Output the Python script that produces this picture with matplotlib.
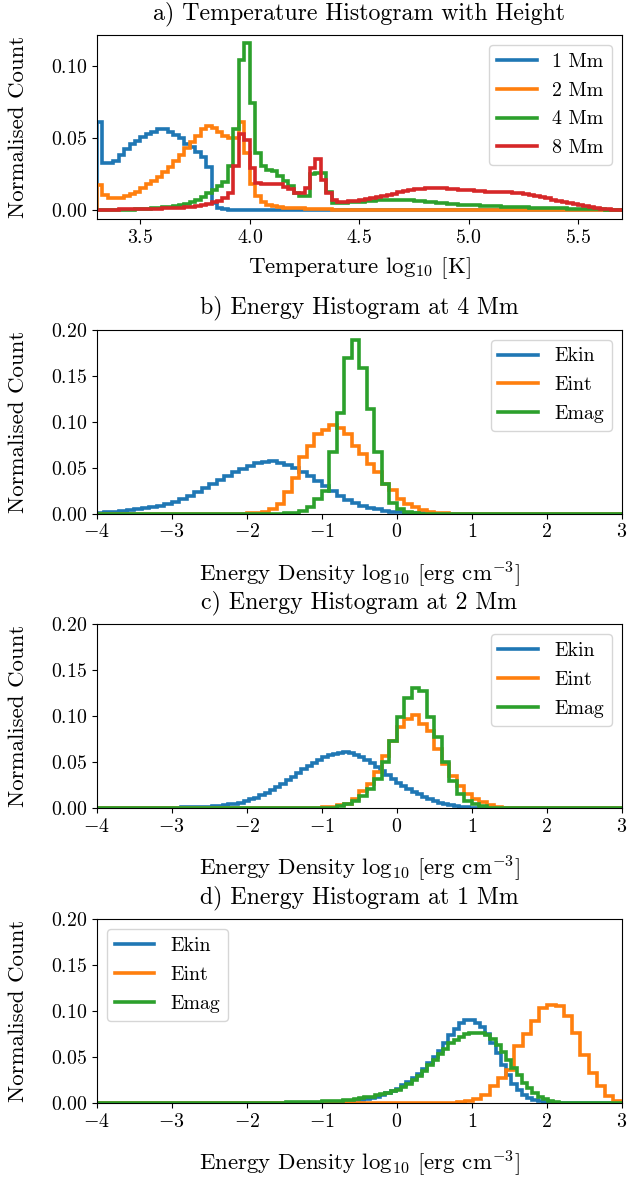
import numpy as np
import matplotlib
matplotlib.use("Agg")
import matplotlib.pyplot as plt
from matplotlib.lines import Line2D

# LaTeX-like look without a TeX install
plt.rcParams["font.family"] = "serif"
plt.rcParams["font.serif"] = ["cmr10"]
plt.rcParams["mathtext.fontset"] = "cm"
plt.rcParams["axes.formatter.use_mathtext"] = True
plt.rcParams["font.size"] = 14.3

# ---- a) temperature histogram, bins of 0.025 in log10 T from 3.3 to 5.7 ----
t_edges = np.linspace(3.3, 5.7, 97)
t_labels = ["1 Mm", "2 Mm", "4 Mm", "8 Mm"]

t_1mm = [0.0614, 0.0328, 0.0328, 0.0343, 0.038, 0.0425, 0.046, 0.048, 0.0505, 0.053,
         0.0545, 0.056, 0.056, 0.0545, 0.052, 0.050, 0.046, 0.044, 0.0405, 0.037,
         0.030, 0.0052, 0.0015, 0.0008, 0.0005, 0.0004, 0.0003, 0.0003, 0.0002, 0.0002,
         0.0001, 0.0001, 0.0001, 0.0001, 0.0001, 0.0001, 0.0001, 0.0001, 0.0001, 0.0001] + [0.0] * 56

t_2mm = [0.0179, 0.011, 0.0085, 0.0083, 0.0087, 0.0098, 0.0113, 0.013, 0.0155, 0.018,
         0.0205, 0.023, 0.0265, 0.030, 0.034, 0.038, 0.043, 0.047, 0.0515, 0.0565,
         0.0585, 0.057, 0.054, 0.0515, 0.050, 0.050, 0.061, 0.040, 0.018, 0.010,
         0.0055, 0.0035, 0.0028, 0.0024, 0.002, 0.0018, 0.0016, 0.0014, 0.0012, 0.001,
         0.0009, 0.0008, 0.0007, 0.0006, 0.0005, 0.0004, 0.0004, 0.0004, 0.0004, 0.0004,
         0.0004, 0.0004, 0.0004, 0.0004, 0.0004, 0.0004, 0.0004, 0.0004, 0.0004, 0.0004] + [0.0002] * 36

t_4mm = [0.0001, 0.0002, 0.0002, 0.0003, 0.0004, 0.0005, 0.0006, 0.0008, 0.001, 0.0012,
         0.0015, 0.0018, 0.0022, 0.0027, 0.0033, 0.004, 0.0045, 0.0055, 0.0073, 0.0096,
         0.012, 0.0144, 0.0167, 0.020, 0.0305, 0.056, 0.104, 0.1155, 0.074, 0.040,
         0.0305, 0.028, 0.027, 0.0235, 0.0205, 0.017, 0.012, 0.0098, 0.0098, 0.025,
         0.026, 0.026, 0.0125, 0.005, 0.005, 0.0052, 0.0055, 0.0058, 0.0061, 0.0064,
         0.0067, 0.007, 0.0072, 0.0074, 0.0075, 0.0075, 0.0074, 0.0072, 0.0068, 0.0064,
         0.006, 0.0056, 0.0052, 0.0049, 0.0046, 0.0043, 0.0041, 0.0039, 0.0037, 0.0035,
         0.0033, 0.0031, 0.003, 0.0028, 0.0027, 0.0025, 0.0024, 0.0023, 0.0021, 0.002,
         0.0019, 0.0018, 0.0017, 0.0016, 0.0015, 0.0014, 0.0013, 0.0012, 0.0011, 0.001,
         0.0009, 0.0008, 0.0007, 0.0005, 0.0004, 0.0002]

t_8mm = [0.0005, 0.0005, 0.0006, 0.0006, 0.0007, 0.0007, 0.0008, 0.0009, 0.001, 0.0011,
         0.0012, 0.0013, 0.0014, 0.0016, 0.0018, 0.002, 0.0023, 0.0027, 0.0032, 0.0038,
         0.0045, 0.0055, 0.0068, 0.0085, 0.012, 0.031, 0.053, 0.049, 0.029, 0.019,
         0.0185, 0.0185, 0.0186, 0.018, 0.0165, 0.0145, 0.012, 0.012, 0.0156, 0.029,
         0.0356, 0.021, 0.012, 0.0073, 0.006, 0.006, 0.0063, 0.0068, 0.0074, 0.008,
         0.0087, 0.0094, 0.0101, 0.0109, 0.0117, 0.0125, 0.0133, 0.014, 0.0146, 0.015,
         0.0153, 0.0154, 0.0154, 0.0152, 0.015, 0.0147, 0.0144, 0.0141, 0.0138, 0.0135,
         0.0132, 0.013, 0.0129, 0.0128, 0.0127, 0.0126, 0.0124, 0.0121, 0.0116, 0.011,
         0.0102, 0.0093, 0.0084, 0.0075, 0.0066, 0.0057, 0.0049, 0.0042, 0.0035, 0.0029,
         0.0023, 0.0018, 0.0013, 0.0009, 0.0005, 0.0002]

# ---- b) energy histogram at 4 Mm, bins of 0.1 from -4 to 3 ----
e_labels = ["Ekin", "Eint", "Emag"]
b_edges = np.linspace(-4, 3, 71)
b_ekin = [0.0008, 0.0012, 0.0017, 0.0027, 0.0035, 0.0045, 0.0057, 0.0070, 0.0086, 0.0105,
          0.0128, 0.0155, 0.0195, 0.0235, 0.0275, 0.032, 0.0365, 0.041, 0.0455, 0.049,
          0.052, 0.0547, 0.0565, 0.057, 0.0555, 0.053, 0.050, 0.0455, 0.041, 0.035,
          0.0295, 0.0245, 0.0195, 0.015, 0.0115, 0.0085, 0.006, 0.0045, 0.003, 0.002,
          0.0012, 0.0007, 0.0004, 0.0002, 0.0001] + [0.0] * 25
b_eint = [0.0] * 20 + [0.0005, 0.001, 0.002, 0.0047, 0.010, 0.023, 0.039, 0.061, 0.074, 0.086,
                       0.091, 0.096, 0.093, 0.086, 0.074, 0.065, 0.054, 0.045, 0.032, 0.0255,
                       0.0157, 0.010, 0.0066, 0.0036, 0.0018, 0.0008, 0.0003] + [0.0] * 23
b_emag = [0.0] * 25 + [0.0003, 0.001, 0.0025, 0.0066, 0.0157, 0.025, 0.067, 0.109, 0.169, 0.189,
                       0.158, 0.114, 0.067, 0.032, 0.012, 0.0047, 0.0015, 0.0005] + [0.0] * 27

# ---- c) energy histogram at 2 Mm ----
c_edges_kin = np.linspace(-4, 3, 101)
c_edges = np.linspace(-4, 3, 71)
c_ekin = [0.0002, 0.0002, 0.0002, 0.0002, 0.0003, 0.0003, 0.0003, 0.0003, 0.0004, 0.0004,
          0.0005, 0.0005, 0.0006, 0.0006, 0.0007, 0.0008, 0.0009, 0.001, 0.0011, 0.0013,
          0.0016, 0.0019, 0.0023, 0.0028, 0.0034, 0.0041, 0.005, 0.0062, 0.0078, 0.0096,
          0.0116, 0.0139, 0.0165, 0.0195, 0.0228, 0.0265, 0.0305, 0.0345, 0.0385, 0.0425,
          0.046, 0.0495, 0.0525, 0.0555, 0.058, 0.0595, 0.0605, 0.0608, 0.060, 0.058,
          0.0555, 0.0525, 0.049, 0.045, 0.0405, 0.036, 0.0315, 0.028, 0.0245, 0.021,
          0.018, 0.015, 0.0125, 0.010, 0.008, 0.0062, 0.0047, 0.0034, 0.0024, 0.0016,
          0.001, 0.0006, 0.0004, 0.0002, 0.0001] + [0.0] * 25
c_eint = [0.0] * 29 + [0.0005, 0.001, 0.0018, 0.003, 0.0047, 0.010, 0.019, 0.0264, 0.039, 0.057,
                       0.073, 0.088, 0.097, 0.1016, 0.0915, 0.084, 0.064, 0.048, 0.0354, 0.024,
                       0.0156, 0.010, 0.0065, 0.004, 0.0018, 0.0007, 0.0002] + [0.0] * 14
c_emag = [0.0] * 30 + [0.0003, 0.0008, 0.002, 0.0047, 0.0083, 0.0137, 0.021, 0.032, 0.050, 0.073,
                       0.099, 0.12, 0.131, 0.128, 0.099, 0.077, 0.050, 0.030, 0.0156, 0.0083,
                       0.0047, 0.002, 0.0007, 0.0002] + [0.0] * 16

# ---- d) energy histogram at 1 Mm ----
d_edges = np.linspace(-4, 3, 101)
d_edges_int = np.linspace(-4.04, 3.0, 65)
d_ekin = [0.0] * 30 + [0.0001, 0.0001, 0.0001, 0.0001, 0.0002, 0.0002, 0.0002, 0.0002, 0.0003, 0.0003,
                       0.0003, 0.0004, 0.0005, 0.0006, 0.0008, 0.001, 0.0013, 0.0017, 0.0022, 0.0028,
                       0.0034, 0.0042, 0.0055, 0.0068, 0.0085, 0.0103, 0.0125, 0.0148, 0.019, 0.023,
                       0.027, 0.032, 0.037, 0.043, 0.050, 0.057, 0.065, 0.074, 0.081, 0.0865,
                       0.0905, 0.090, 0.0875, 0.083, 0.075, 0.065, 0.054, 0.041, 0.030, 0.021,
                       0.014, 0.009, 0.0055, 0.0033, 0.0018, 0.001, 0.0005, 0.0002] + [0.0] * 12
d_eint = [0.0] * 42 + [0.0002, 0.0005, 0.001, 0.002, 0.0045, 0.009, 0.018, 0.027, 0.036, 0.062,
                       0.0745, 0.089, 0.1036, 0.107, 0.1055, 0.0945, 0.0764, 0.0527, 0.0327, 0.018,
                       0.0073, 0.0018]
d_emag = [0.0] * 26 + [0.0001, 0.0001, 0.0002, 0.0002,
                       0.0002, 0.0003, 0.0003, 0.0004, 0.0004, 0.0005, 0.0006, 0.0007, 0.0008, 0.0009,
                       0.0011, 0.0013, 0.0015, 0.0017, 0.0019, 0.0022, 0.0026, 0.003, 0.0036, 0.0043,
                       0.0051, 0.006, 0.007, 0.0082, 0.0095, 0.011, 0.0128, 0.0146, 0.017, 0.021,
                       0.025, 0.0295, 0.035, 0.041, 0.047, 0.053, 0.059, 0.065, 0.069, 0.072,
                       0.0745, 0.0758, 0.0764, 0.076, 0.074, 0.070, 0.063, 0.055, 0.047, 0.038,
                       0.030, 0.022, 0.016, 0.011, 0.007, 0.0042, 0.0022, 0.001, 0.0004, 0.0001] + [0.0] * 10

LW = 2.6
LABEL_SIZE = 16.5
COLORS = ["C0", "C1", "C2", "C3"]

fig, axes = plt.subplots(4, 1, figsize=(6.28, 11.78), dpi=100)
plt.subplots_adjust(left=0.154, right=0.99, top=0.9703, bottom=0.0637, hspace=0.603)


def step_hist(ax, edges, values, color):
    edges = np.asarray(edges)
    ax.hist(edges[:-1], bins=edges, weights=values, histtype="step", linewidth=LW, color=color)


def style_axis(ax, title, xlabel, xlab_y):
    ax.set_title(title, pad=11.5)
    ax.set_xlabel(xlabel, fontsize=LABEL_SIZE, va="center")
    ax.xaxis.set_label_coords(0.5, xlab_y)
    ax.set_ylabel("Normalised Count", fontsize=LABEL_SIZE, va="center")
    ax.yaxis.set_label_coords(-0.15, 0.5)


def add_legend(ax, labels, loc):
    handles = [Line2D([], [], color=c, lw=LW) for c in COLORS[:len(labels)]]
    ax.legend(handles, labels, loc=loc, labelspacing=0.55)


# a) temperature
ax = axes[0]
for vals, c in zip([t_1mm, t_2mm, t_4mm, t_8mm], COLORS):
    step_hist(ax, t_edges, vals, c)
ax.set_xlim(3.3, 5.7)
ax.set_ylim(-0.0058, 0.1213)
style_axis(ax, "a) Temperature Histogram with Height", r"Temperature $\mathrm{log}_{10}$ [K]", -0.266)
add_legend(ax, t_labels, "upper right")

# b), c), d) energy
panels = [
    ("b) Energy Histogram at 4 Mm", [(b_edges, b_ekin), (b_edges, b_eint), (b_edges, b_emag)], "upper right"),
    ("c) Energy Histogram at 2 Mm", [(c_edges_kin, c_ekin), (c_edges, c_eint), (c_edges, c_emag)], "upper right"),
    ("d) Energy Histogram at 1 Mm", [(d_edges, d_ekin), (d_edges_int, d_eint), (d_edges, d_emag)], "upper left"),
]
for ax, (title, series, loc) in zip(axes[1:], panels):
    for (edges, vals), c in zip(series, COLORS):
        step_hist(ax, edges, vals, c)
    ax.set_xlim(-4, 3)
    ax.set_ylim(0, 0.2)
    style_axis(ax, title, r"Energy Density $\mathrm{log}_{10}$ [erg cm$^{-3}$]", -0.332)
    add_legend(ax, e_labels, loc)

plt.savefig("out.png")
